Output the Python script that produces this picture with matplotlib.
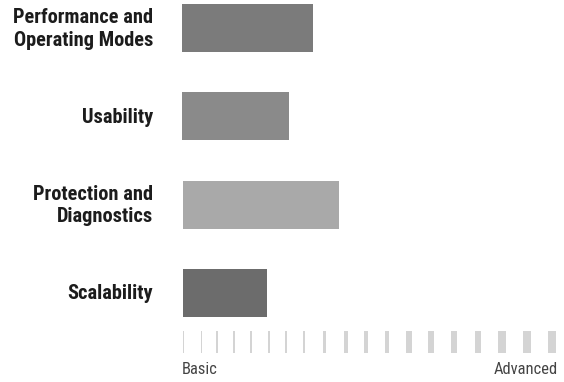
import matplotlib
matplotlib.use("Agg")
import matplotlib.pyplot as plt
from matplotlib import font_manager as fm

names = {f.name for f in fm.fontManager.ttflist}
cands = ["Roboto Condensed", "Open Sans Condensed", "Liberation Sans Narrow",
         "Noto Sans Condensed", "DejaVu Sans"]
narrow = next(c for c in cands if c in names)

# ---- data ----
categories = ["Performance and\nOperating Modes", "Usability", "Protection and\nDiagnostics", "Scalability"]
bar_start = [0.0, 0.0, 0.3, 0.3]          # scale units (0..100 Basic..Advanced)
bar_end = [34.8, 28.5, 41.8, 22.6]
bar_colors = ["#7b7b7b", "#8a8a8a", "#a9a9a9", "#6c6c6c"]

# scale marks (decorative gradient from Basic to Advanced)
scale_pos = [0.3, 5.1, 9.3, 13.8, 18.4, 23.1, 27.6, 32.4, 38.0, 43.6, 48.9, 54.5,
             60.4, 66.2, 72.3, 78.7, 85.1, 91.8, 98.4]
scale_w_px = [1.0, 1.0, 1.2, 1.4, 1.7, 1.8, 2.1, 2.6, 3.2, 3.8, 4.3, 4.8,
              5.3, 5.6, 6.0, 6.6, 7.1, 7.5, 8.5]
scale_labels = ["Basic", "Advanced"]

W, H, DPI = 564, 382, 100
fig = plt.figure(figsize=(W / DPI, H / DPI), dpi=DPI)
fig.patch.set_facecolor("white")
renderer = fig.canvas.get_renderer()


def fit_size(text, target_px, weight, base=12.0):
    t = fig.text(0, 0, text, fontsize=base, fontweight=weight, family=narrow,
                 fontstretch="condensed")
    w = t.get_window_extent(renderer).width
    t.remove()
    return base * target_px / w


label_fs = min(fit_size("Performance and", 140, "bold"), 16)
scale_fs = min(fit_size("Advanced", 64, "normal"), 13)

ax_left_px, ax_right_px = 182, 558
ax = fig.add_axes([ax_left_px / W, 0, (ax_right_px - ax_left_px) / W, 1])
ax.set_xlim(0, 100)
px_per_unit = (ax_right_px - ax_left_px) / 100.0

# y: category index; index 0 at y=28px, step 88.3px
step = 88.3
y0 = 28
ax.set_ylim((H - y0) / step, -y0 / step)
ax.axis("off")

bar_h = 48 / step
for i, (s, e, c) in enumerate(zip(bar_start, bar_end, bar_colors)):
    ax.barh(i, e - s, left=s, height=bar_h, color=c, edgecolor="none")
    ax.text(-29 / (ax_right_px - ax_left_px), i + 0.01, categories[i],
            transform=ax.get_yaxis_transform(),
            ha="right", va="center", fontsize=label_fs, fontweight="bold", family=narrow,
            fontstretch="condensed", color="#1c1c1c", linespacing=1.22)

# scale marks
scale_y = (342 - y0) / step
scale_h = 22 / step
for p, w in zip(scale_pos, scale_w_px):
    ax.bar(p, scale_h, width=w / px_per_unit, bottom=scale_y - scale_h / 2,
           color="#d4d4d4", edgecolor="none")

label_y = (369 - y0) / step
ax.text(0, label_y, scale_labels[0], ha="left", va="center", fontsize=scale_fs,
        family=narrow, fontstretch="condensed", color="#444444")
ax.text(100, label_y, scale_labels[1], ha="right", va="center", fontsize=scale_fs,
        family=narrow, fontstretch="condensed", color="#444444")

fig.savefig("out.png", dpi=DPI, facecolor="white")
